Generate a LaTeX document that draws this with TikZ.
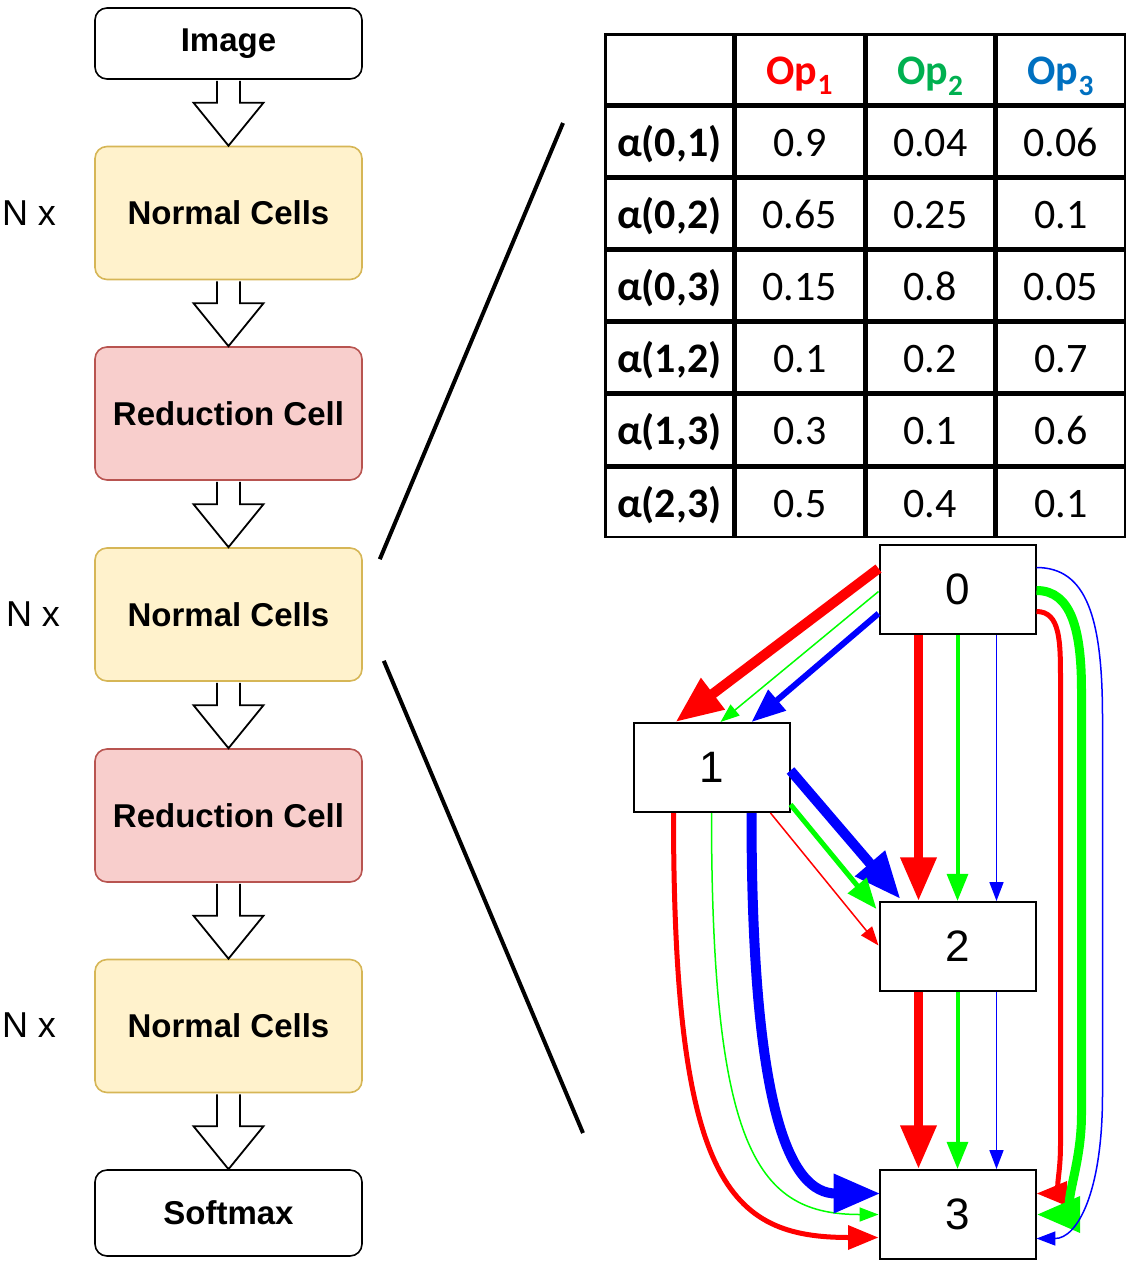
\documentclass[tikz,border=0pt]{standalone}
\usepackage{fontspec}
\setmainfont{Liberation Sans}
\newfontfamily\calfont{Carlito}
\usetikzlibrary{arrows.meta,calc,matrix}

\definecolor{cellfill}{HTML}{FFF2CC}
\definecolor{celldraw}{HTML}{D6B656}
\definecolor{redfill}{HTML}{F8CECC}
\definecolor{reddraw}{HTML}{B85450}
\definecolor{opred}{HTML}{FF0000}
\definecolor{opgreen}{HTML}{00B050}
\definecolor{opblue}{HTML}{0070C0}
\definecolor{er}{HTML}{FF0000}
\definecolor{eg}{HTML}{00FF00}
\definecolor{eb}{HTML}{0000FF}

\tikzset{
  stage/.style={draw, line width=1.6pt, rounded corners=12pt, minimum width=267pt,
    inner sep=0pt, font=\fontsize{33}{38}\selectfont\bfseries},
  normalcell/.style={stage, fill=cellfill, draw=celldraw, minimum height=133pt},
  redcell/.style={stage, fill=redfill, draw=reddraw, minimum height=133pt},
  blockarrow/.style={draw, line width=1.8pt, fill=white, line join=miter},
  gnode/.style={draw, line width=2pt, minimum width=156pt, minimum height=89pt,
    inner sep=0pt, fill=white, font=\fontsize{44}{50}\selectfont},
  edge/.style={-{Triangle[length=14pt 3.3, width=10pt 2.7]}},
  nlabel/.style={font=\fontsize{36}{40}\selectfont},
}

\begin{document}
\begin{tikzpicture}[x=1pt, y=-1pt]
  \useasboundingbox (0,0) rectangle (1136,1270);

  % network stack
  \node[stage, minimum height=71pt] (img) at (228.5,43.5) {Image};
  \node[normalcell] (nc1) at (228.5,213) {Normal Cells};
  \node[redcell] (rc1) at (228.5,413.5) {Reduction Cell};
  \node[normalcell] (nc2) at (228.5,614.5) {Normal Cells};
  \node[redcell] (rc2) at (228.5,815.5) {Reduction Cell};
  \node[normalcell] (nc3) at (228.5,1026) {Normal Cells};
  \node[stage, minimum height=86pt] (soft) at (228.5,1213) {Softmax};
  \node[nlabel] (nx1) at (29,213) {N x};
  \node[nlabel] (nx2) at (33,614) {N x};
  \node[nlabel] (nx3) at (29,1025) {N x};

  \foreach \a/\b in {img/nc1, nc1/rc1, rc1/nc2, nc2/rc2, rc2/nc3, nc3/soft}
    \draw[blockarrow] ($(\a.south)+(-11.5,1)$) -- ($(\b.north)+(-11.5,-43)$)
      -- ($(\b.north)+(-35,-43)$) -- (\b.north) -- ($(\b.north)+(35,-43)$)
      -- ($(\b.north)+(11.5,-43)$) -- ($(\a.south)+(11.5,1)$);

  % zoom lines
  \coordinate (zt) at (563,123);
  \coordinate (zb) at (583,1133);
  \draw[line width=4pt] ($(nc2.north east)+(17,12)$) -- (zt);
  \draw[line width=4pt] ($(nc2.south east)+(21,-21)$) -- (zb);

  % alpha table
  \matrix (tab) [matrix of nodes, nodes in empty cells, row sep=0pt, column sep=0pt,
    nodes={draw, line width=2.5pt, outer sep=0pt, minimum width=128pt, minimum height=69.6pt,
      inner sep=0pt, anchor=center, text height=36pt, text depth=6pt,
      font=\calfont\fontsize{42}{46}\selectfont}]
    at (865,285.75) {
      & |[text=opred]|\textbf{Op\textsubscript{1}} & |[text=opgreen]|\textbf{Op\textsubscript{2}} & |[text=opblue]|\textbf{Op\textsubscript{3}} \\
    \textbf{α(0,1)} & 0.9 & 0.04 & 0.06 \\
    \textbf{α(0,2)} & 0.65 & 0.25 & 0.1 \\
    \textbf{α(0,3)} & 0.15 & 0.8 & 0.05 \\
    \textbf{α(1,2)} & 0.1 & 0.2 & 0.7 \\
    \textbf{α(1,3)} & 0.3 & 0.1 & 0.6 \\
    \textbf{α(2,3)} & 0.5 & 0.4 & 0.1 \\
  };

  % cell graph
  \node[gnode] (n0) at (957.5,589.5) {0};
  \node[gnode] (n1) at (711.5,767.5) {1};
  \node[gnode] (n2) at (957.5,946.5) {2};
  \node[gnode] (n3) at (957.5,1214.5) {3};

  % 0 -> 1
  \draw[edge, er, line width=10pt] ($(n0.west)+(0,-21)$) -- ($(n1.north)+(-36,0)$);
  \draw[edge, eg, line width=1.5pt] ($(n0.west)+(0,2)$) -- ($(n1.north)+(9,0)$);
  \draw[edge, eb, line width=6pt] ($(n0.west)+(0,24)$) -- ($(n1.north)+(40,0)$);
  % 0 -> 2 and 2 -> 3
  \foreach \s/\t in {n0/n2, n2/n3} {
    \draw[edge, er, line width=9pt] ($(\s.south)+(-39,0)$) -- ($(\t.north)+(-39,0)$);
    \draw[edge, eg, line width=4pt] (\s.south) -- (\t.north);
    \draw[edge, eb, line width=1.5pt] ($(\s.south)+(39,0)$) -- ($(\t.north)+(39,0)$);
  }
  % 1 -> 2
  \draw[edge, eb, line width=10pt] ($(n1.east)+(0,3)$) -- ($(n2.north west)+(22,-2)$);
  \draw[edge, eg, line width=5pt] ($(n1.east)+(0,37)$) -- ($(n2.north west)+(-2,8)$);
  \draw[edge, er, line width=1.5pt] ($(n1.south east)+(-20,0)$) -- ($(n2.west)+(0,-1)$);
  % 1 -> 3
  \draw[edge, er, line width=5pt] ($(n1.south)+(-38,0)$) .. controls +(0,370) and +(-150,0) .. ($(n3.west)+(0,23)$);
  \draw[edge, eg, line width=1.5pt] (n1.south) .. controls +(0,340) and +(-120,0) .. (n3.west);
  \draw[edge, eb, line width=10pt] ($(n1.south)+(40,0)$) .. controls +(0,300) and +(-90,0) .. ($(n3.west)+(2,-21)$);
  % 0 -> 3
  \draw[edge, er, line width=5pt] ($(n0.east)+(0,22)$) .. controls +(24,0) and +(0,-40) .. ++(24,70)
    -- ($(n3.east)+(24,-70)$) .. controls +(0,40) and +(15,0) .. ($(n3.east)+(0,-21)$);
  \draw[edge, eg, line width=9pt] ($(n0.east)+(0,1)$) .. controls +(35,0) and +(0,-60) .. ++(45,100)
    -- ($(n3.east)+(45,-100)$) .. controls +(0,60) and +(20,0) .. (n3.east);
  \draw[edge, eb, line width=1.5pt] ($(n0.east)+(0,-22)$) .. controls +(50,0) and +(0,-100) .. ++(66,150)
    -- ($(n3.east)+(66,-120)$) .. controls +(0,100) and +(40,0) .. ($(n3.east)+(0,24)$);
\end{tikzpicture}
\end{document}
